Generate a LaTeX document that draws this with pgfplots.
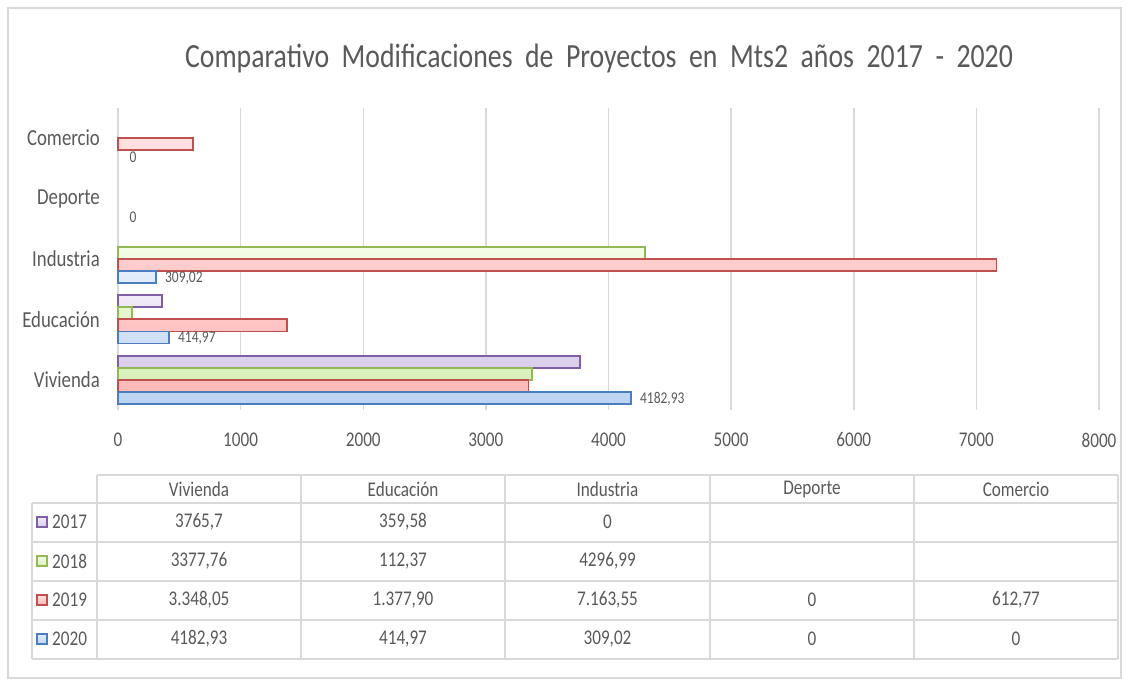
\documentclass[border=0pt]{standalone}
\usepackage{pgfplots}
\pgfplotsset{compat=1.18}
\usepackage{fontspec}
\setmainfont{Carlito}[FakeStretch=0.82]
\definecolor{txt}{HTML}{595959}
\definecolor{gridc}{HTML}{D9D9D9}
\definecolor{pur}{HTML}{7F60A6}
\definecolor{grn}{HTML}{92B955}
\definecolor{red1}{HTML}{C0504D}
\definecolor{blu}{HTML}{4A7EC0}
\definecolor{purT}{HTML}{F1EBF8}\definecolor{purB}{HTML}{D9CDEB}
\definecolor{grnT}{HTML}{F3FBE6}\definecolor{grnB}{HTML}{D9F0BA}
\definecolor{red1T}{HTML}{FFE0E0}\definecolor{red1B}{HTML}{FFB9B9}
\definecolor{bluT}{HTML}{E3EEFC}\definecolor{bluB}{HTML}{BCD3F3}
\begin{document}
\begin{tikzpicture}
\begin{scope}[x=1bp,y=1bp]
\path (0,0) rectangle (1131,680);
\draw[gridc, line width=1.5bp] (8,2) rectangle (1121,672);
\node[txt, font=\fontsize{34}{40}\selectfont] at (599,622) {Comparativo\ \ Modificaciones\ \ de\ \ Proyectos\ \ en\ \ Mts2\ \ años\ \ 2017\ \ -\ \ 2020};
\end{scope}
\begin{axis}[
  at={(118bp,270bp)}, anchor=south west,
  scale only axis, width=981bp, height=302bp,
  xmin=0, xmax=8000, ymin=-0.5, ymax=4.5,
  enlargelimits=false,
  axis line style={draw=none},
  xtick={0,1000,...,8000},
  xticklabels={0,1000,2000,3000,4000,5000,6000,7000,8000},
  ytick={0,1,2,3,4},
  yticklabels={Vivienda,Educación,Industria,Deporte,Comercio},
  major tick length=0pt,
  xmajorgrids,
  grid style={gridc, line width=1.5bp},
  xticklabel style={font=\fontsize{21}{25}\selectfont, txt, anchor=center, inner sep=0pt, yshift=-30bp},
  yticklabel style={font=\fontsize{23}{27}\selectfont, txt, anchor=east, inner sep=0pt, xshift=-18bp},
  bar width=0.2,
  clip=false,
]
\addplot[xbar, bar shift=0.3, draw=pur, line width=1.8bp, top color=purT, bottom color=purB]
  coordinates {(3765.7,0) (359.58,1)};
\addplot[xbar, bar shift=0.1, draw=grn, line width=1.8bp, top color=grnT, bottom color=grnB]
  coordinates {(3377.76,0) (112.37,1) (4296.99,2)};
\addplot[xbar, bar shift=-0.1, draw=red1, line width=1.8bp, top color=red1T, bottom color=red1B]
  coordinates {(3348.05,0) (1377.90,1) (7163.55,2) (612.77,4)};
\addplot[xbar, bar shift=-0.3, draw=blu, line width=1.8bp, top color=bluT, bottom color=bluB,
  nodes near coords, point meta=explicit symbolic,
  every node near coord/.append style={font=\fontsize{16.5}{20}\selectfont, txt, anchor=west, xshift=5bp, yshift=-19bp}]
  table[x=x, y=y, meta=lab] {
x y lab
4182.93 0 4182,93
414.97 1 414,97
309.02 2 309,02
};
\addplot[xbar, bar shift=-0.3, draw=none, fill=none,
  nodes near coords, point meta=explicit symbolic,
  every node near coord/.append style={font=\fontsize{16.5}{20}\selectfont, txt, anchor=west, xshift=8bp, yshift=-19bp}]
  table[x=x, y=y, meta=lab] {
x y lab
0 3 0
0 4 0
};
\end{axis}
\begin{scope}[x=1bp, y=-1bp, shift={(0,-680)}, font=\fontsize{21}{25}\selectfont]
\draw[gridc, line width=1.5bp] (97,475) -- (1118,475);
\foreach \y in {503,542,581,620,659} \draw[gridc, line width=1.5bp] (32,\y) -- (1118,\y);
\draw[gridc, line width=1.5bp] (32,503) -- (32,659);
\foreach \x in {97,301,505,710,914,1118} \draw[gridc, line width=1.5bp] (\x,475) -- (\x,659);
% header
\foreach \x/\t in {199/Vivienda,403/Educación,607.5/Industria,812/Deporte,1016/Comercio}
  \node[txt] at (\x,489) {\t};
% row labels with keys
\foreach \y/\yr/\c in {522/2017/pur,561/2018/grn,600/2019/red1,639/2020/blu}{
  \draw[\c, line width=1.5bp, top color=\c T, bottom color=\c B] (37,\y-5) rectangle (47,\y+5);
  \node[txt, anchor=west, inner sep=0pt] at (52,\y) {\yr};
}
% cells
\node[txt] at (199,522) {3765,7};
\node[txt] at (403,522) {359,58};
\node[txt] at (607.5,522) {0};
\node[txt] at (199,561) {3377,76};
\node[txt] at (403,561) {112,37};
\node[txt] at (607.5,561) {4296,99};
\node[txt] at (199,600) {3.348,05};
\node[txt] at (403,600) {1.377,90};
\node[txt] at (607.5,600) {7.163,55};
\node[txt] at (812,600) {0};
\node[txt] at (1016,600) {612,77};
\node[txt] at (199,639) {4182,93};
\node[txt] at (403,639) {414,97};
\node[txt] at (607.5,639) {309,02};
\node[txt] at (812,639) {0};
\node[txt] at (1016,639) {0};
\end{scope}
\end{tikzpicture}
\end{document}
